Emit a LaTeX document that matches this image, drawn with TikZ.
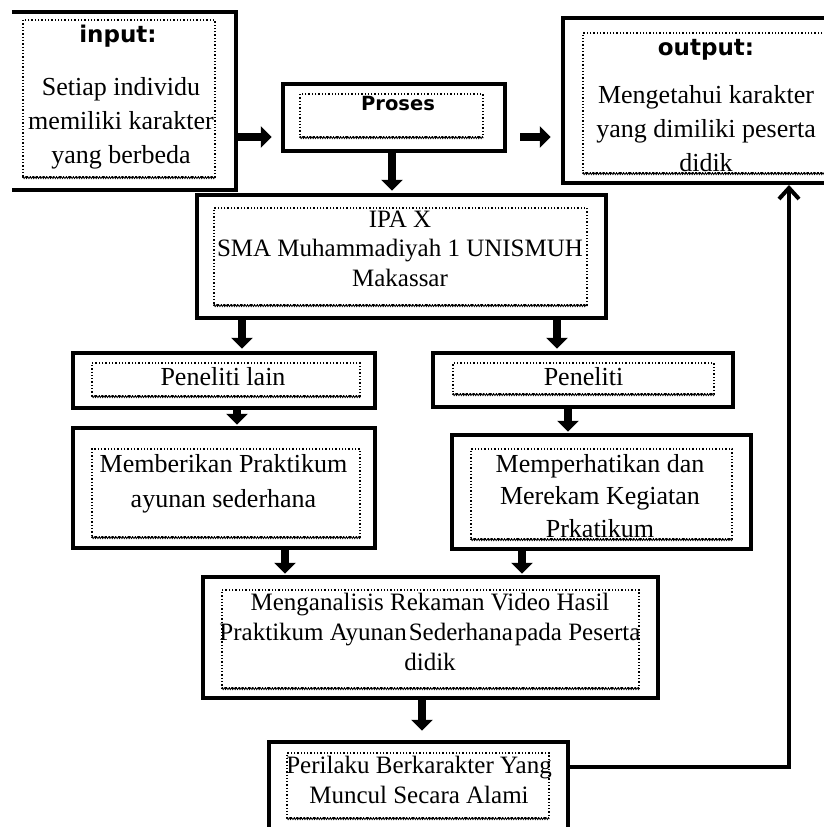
\documentclass[tikz,border=0pt]{standalone}
\usepackage{fontspec}
\setmainfont{Liberation Serif}
\newfontfamily\hdfont{DejaVu Sans Bold}
\usetikzlibrary{arrows.meta,decorations.pathmorphing}
\newcommand{\tb}[1]{\begin{tabular}[t]{@{}c@{}}#1\end{tabular}}
\begin{document}
\begin{tikzpicture}[x=1pt,y=-1pt,
  outer/.style={draw, line width=4.5pt, inner sep=0pt},
  inner/.style={draw, dotted, line width=1.3pt, inner sep=0pt},
  zz/.style={line width=0.8pt, decorate, decoration={zigzag, segment length=2.4pt, amplitude=0.9pt}},
  hd/.style={inner sep=0pt, anchor=base, font=\hdfont\fontsize{23}{26}\selectfont},
  txt/.style={inner sep=0pt, anchor=base},
  blk/.style={line width=8pt, -{Triangle[width=21pt,length=11pt]}},
  ret/.style={line width=4pt, -{Straight Barb[width=20pt,length=11pt]}}]
\useasboundingbox (0,0) rectangle (824,827);
\fill[white] (0,0) rectangle (824,827);
\clip (0,0) rectangle (824,827);

% input
\node[inner sep=0pt, minimum width=224pt, minimum height=178pt] (inp) at (124,101) {};
\draw[line width=4.5pt] (inp.north west) -- (inp.north east) -- (inp.south east) -- (inp.south west);
\node[inner, minimum width=192pt, minimum height=157pt] (inpi) at (119,98.5) {};
\draw[zz] (inpi.south west) -- (inpi.south east);
\node[hd] (inph) at (118,42) {input:};
\node[txt, font=\fontsize{26}{34}\selectfont] (inpt) at (121,95) {\tb{Setiap individu\\memiliki karakter\\yang berbeda}};

% proses
\node[outer, minimum width=222pt, minimum height=67pt] (pro) at (394,117.5) {};
\node[inner, minimum width=183pt, minimum height=43pt] (proi) at (391.5,115.5) {};
\draw[zz] (proi.south west) -- (proi.south east);
\node[hd, font=\hdfont\fontsize{19.5}{22}\selectfont] (proh) at (398,110) {Proses};

% output
\node[outer, minimum width=286pt, minimum height=165pt] (out) at (706,100.5) {};
\node[inner, minimum width=246pt, minimum height=140pt] (outi) at (706,103) {};
\draw[zz] (outi.south west) -- (outi.south east);
\node[hd] (outh) at (706,55) {output:};
\node[txt, font=\fontsize{26}{34}\selectfont] (outt) at (706,103) {\tb{Mengetahui karakter\\yang dimiliki peserta\\didik}};

% IPA
\node[outer, minimum width=409pt, minimum height=123pt] (ipa) at (401.5,256.5) {};
\node[inner, minimum width=373pt, minimum height=97pt] (ipai) at (400.5,256.5) {};
\draw[zz] (ipai.south west) -- (ipai.south east);
\node[txt, font=\fontsize{25}{29.5}\selectfont] (ipat) at (400,227) {\tb{IPA X\\SMA Muhammadiyah 1 UNISMUH\\Makassar}};

% Peneliti lain
\node[outer, minimum width=302pt, minimum height=55pt] (pl) at (224,380.5) {};
\node[inner, minimum width=268pt, minimum height=33pt] (pli) at (226,379.5) {};
\draw[zz] (pli.south west) -- (pli.south east);
\node[txt, font=\fontsize{26}{32}\selectfont] (plt) at (223,385) {Peneliti lain};

% Peneliti
\node[outer, minimum width=300pt, minimum height=54pt] (pen) at (583,380) {};
\node[inner, minimum width=261pt, minimum height=31pt] (peni) at (583.5,378.5) {};
\draw[zz] (peni.south west) -- (peni.south east);
\node[txt, font=\fontsize{26}{32}\selectfont] (pent) at (583.5,385) {Peneliti};

% Memberikan
\node[outer, minimum width=302pt, minimum height=120pt] (mb) at (224,488) {};
\node[inner, minimum width=268pt, minimum height=88pt] (mbi) at (226,493) {};
\draw[zz] (mbi.south west) -- (mbi.south east);
\node[txt, font=\fontsize{26}{35}\selectfont] (mbt) at (223.5,472) {\tb{Memberikan Praktikum\\ayunan sederhana}};

% Memperhatikan
\node[outer, minimum width=299pt, minimum height=114pt] (mp) at (601.5,492) {};
\node[inner, minimum width=261pt, minimum height=90pt] (mpi) at (601.5,494) {};
\draw[zz] (mpi.south west) -- (mpi.south east);
\node[txt, font=\fontsize{26}{32.5}\selectfont] (mpt) at (600,472) {\tb{Memperhatikan dan\\Merekam Kegiatan\\Prkatikum}};

% Analisis
\node[outer, minimum width=455pt, minimum height=121pt] (an) at (430.5,637.5) {};
\node[inner, minimum width=417pt, minimum height=98pt] (ani) at (430.5,639) {};
\draw[zz] (ani.south west) -- (ani.south east);
\node[txt, font=\fontsize{25}{30}\selectfont] (ant) at (430,610) {\tb{Menganalisis Rekaman Video Hasil\\Praktikum Ayunan\hspace{2pt}Sederhana\hspace{2pt}pada Peserta\\didik}};

% Perilaku
\node[outer, minimum width=299pt, minimum height=98pt] (pr) at (418.5,791) {};
\node[inner, minimum width=262pt, minimum height=65pt] (pri) at (418,785.5) {};
\draw[zz] (pri.south west) -- (pri.south east);
\node[txt, font=\fontsize{25}{30}\selectfont] (prt) at (419,773) {\tb{Perilaku Berkarakter Yang\\Muncul Secara Alami}};

% connectors
\draw[blk] ([yshift=-36pt]inp.east) -- ([xshift=-9pt,yshift=-19.5pt]pro.west);
\draw[blk] ([xshift=13pt,yshift=-19.5pt]pro.east) -- ([xshift=-10pt,yshift=-36.5pt]out.west);
\draw[blk] ([xshift=-2pt]pro.south) -- ([xshift=-9.5pt,yshift=2pt]ipa.north);
\draw[blk] ([xshift=18pt]pl.north |- ipa.south) -- ([xshift=18pt,yshift=2pt]pl.north);
\draw[blk] ([xshift=-26pt]pen.north |- ipa.south) -- ([xshift=-26pt,yshift=2pt]pen.north);
\draw[blk] ([xshift=13pt]pl.south) -- ([xshift=13pt,yshift=1pt]mb.north);
\draw[blk] ([xshift=-15pt]pen.south) -- ([xshift=-33.5pt,yshift=1pt]mp.north);
\draw[blk] ([xshift=61pt]mb.south) -- ([xshift=-145.5pt,yshift=1pt]an.north);
\draw[blk] ([xshift=-79.5pt]mp.south) -- ([xshift=91.5pt,yshift=1pt]an.north);
\draw[blk] ([xshift=-8.5pt]an.south) -- ([xshift=3.5pt,yshift=9pt]pr.north);
\coordinate (rete) at (789,185);
\draw[ret] ([yshift=-27pt]pr.north east) -| (rete);
\end{tikzpicture}
\end{document}
